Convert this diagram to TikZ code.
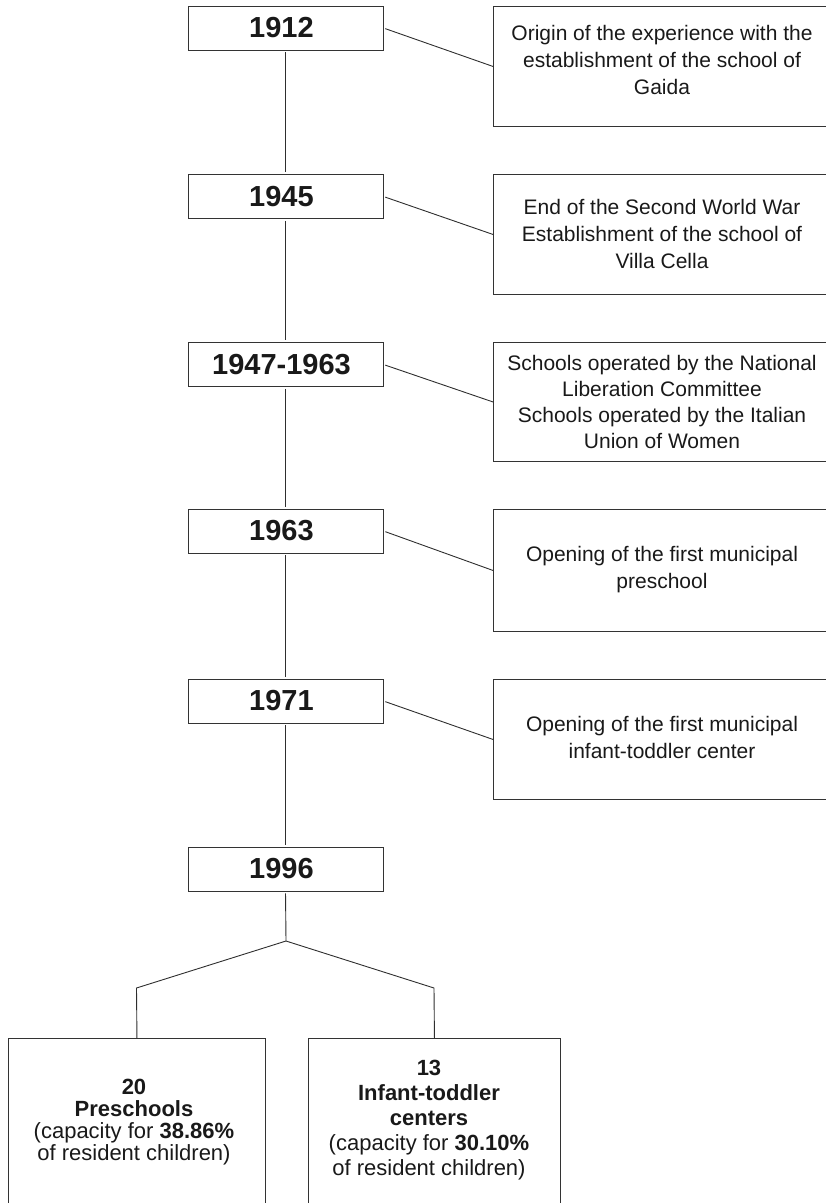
\documentclass[tikz,border=0pt]{standalone}
\usepackage{fontspec}
\setmainfont{Liberation Sans}
\begin{document}
\begin{tikzpicture}[x=1pt,y=-1pt,
  line/.style={draw=black!82, line width=0.9pt},
  yearbox/.style={draw=black!80, line width=0.9pt, minimum width=195pt, minimum height=44pt, inner sep=0pt, text=black!90, font=\fontsize{29}{32}\selectfont\bfseries},
  evbox/.style={draw=black!80, line width=0.9pt, minimum width=337pt, inner sep=0pt, anchor=north west},
  evtext/.style={align=center, inner sep=0pt, text=black!90, font=\fontsize{21}{27}\selectfont},
  bottombox/.style={draw=black!80, line width=0.9pt, inner sep=0pt, minimum height=200pt, anchor=north west},
  bigb/.style={font=\fontsize{23.5}{24}\selectfont\bfseries},
]
\useasboundingbox (0,0) rectangle (826,1203);

% year boxes
\node[yearbox] (y1912) at (285.5,28)    {1912\hspace*{8pt}};
\node[yearbox] (y1945) at (285.5,196.5) {1945\hspace*{8pt}};
\node[yearbox] (y1947) at (285.5,364.5) {1947-1963\hspace*{8pt}};
\node[yearbox] (y1963) at (285.5,531)   {1963\hspace*{8pt}};
\node[yearbox] (y1971) at (285.5,701)   {1971\hspace*{8pt}};
\node[yearbox] (y1996) at (285.5,869)   {1996\hspace*{8pt}};

% event boxes
\node[evbox, minimum height=120pt] (b1) at (493,6)   {};
\node[evbox, minimum height=120pt] (b2) at (493,174) {};
\node[evbox, minimum height=119pt] (b3) at (493,342) {};
\node[evbox, minimum height=122pt] (b4) at (493,509) {};
\node[evbox, minimum height=120pt] (b5) at (493,679) {};

\node[evtext] (t1) at (662,60)    {Origin of the experience with the\\establishment of the school of\\Gaida};
\node[evtext] (t2) at (662,234)   {End of the Second World War\\Establishment of the school of\\Villa Cella};
\node[evtext, font=\fontsize{21}{26}\selectfont] (t3) at (662,401.5) {Schools operated by the National\\Liberation Committee\\Schools operated by the Italian\\Union of Women};
\node[evtext] (t4) at (662,570)   {Opening of the first municipal\\preschool};
\node[evtext] (t5) at (662,737)   {Opening of the first municipal\\infant-toddler center};

% connectors to events
\draw[line, shorten <=2pt] (y1912.east) -- (b1.west);
\draw[line, shorten <=2pt] (y1945.east) -- (b2.west);
\draw[line, shorten <=2pt] (y1947.east) -- (b3.west);
\draw[line, shorten <=2pt] (y1963.east) -- (b4.west);
\draw[line, shorten <=2pt] (y1971.east) -- (b5.west);

% timeline
\draw[line, shorten <=2pt, shorten >=2pt] (y1912.south) -- (y1945.north);
\draw[line, shorten <=2pt, shorten >=2pt] (y1945.south) -- (y1947.north);
\draw[line, shorten <=2pt, shorten >=2pt] (y1947.south) -- (y1963.north);
\draw[line, shorten <=2pt, shorten >=2pt] (y1963.south) -- (y1971.north);
\draw[line, shorten <=2pt, shorten >=2pt] (y1971.south) -- (y1996.north);

% bottom boxes
\node[bottombox, minimum width=257pt] (lb) at (8,1038)   {};
\node[bottombox, minimum width=252pt] (rb) at (308,1038) {};

\node[evtext, font=\fontsize{22}{22}\selectfont] (lt) at (134,1122)
  {{\bfseries 20}\\{\bfseries Preschools}\hspace*{34pt}\\(capacity for {\bfseries 38.86\%}\\of resident children)};
\node[evtext, font=\fontsize{22}{25}\selectfont] (rt) at (429,1120)
  {{\bfseries 13}\\{\bfseries Infant-toddler}\\{\bfseries centers}\\(capacity for {\bfseries 30.10\%}\\of resident children)};

% fork
\coordinate (fork) at (286,941);
\coordinate (lk) at (136.5,988);
\coordinate (rk) at (434,988);
\draw[line, shorten <=2pt] (y1996.south) -- (fork);
\draw[line] (fork) -- (lk) -- (lb.north);
\draw[line] (fork) -- (rk) -- (rb.north);
\end{tikzpicture}
\end{document}
